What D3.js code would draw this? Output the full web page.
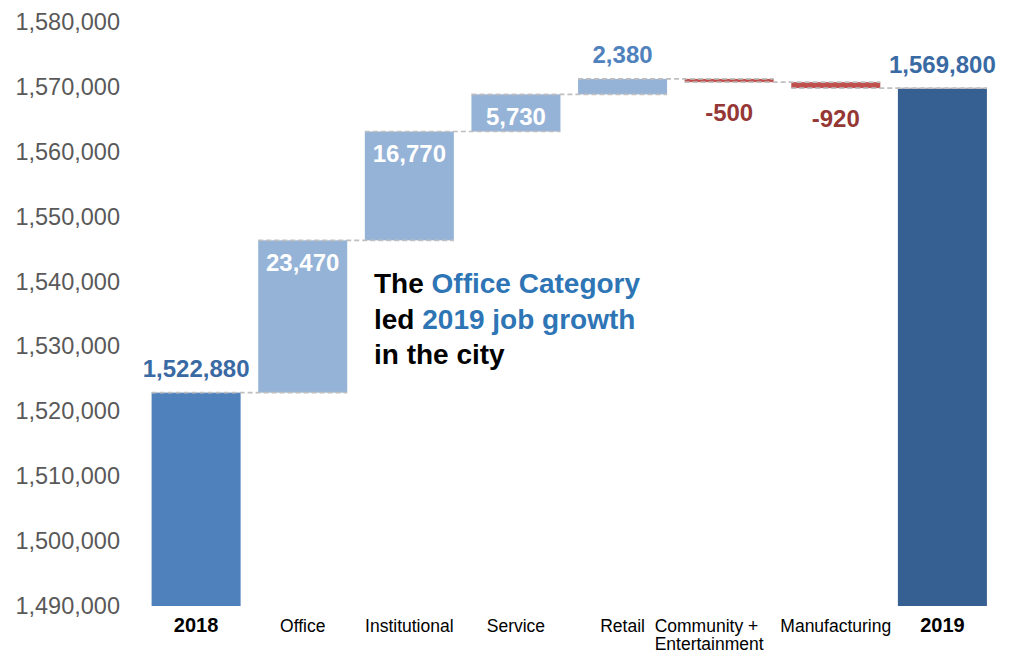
<!DOCTYPE html>
<html>
<head>
<meta charset="utf-8">
<script src="https://cdn.jsdelivr.net/npm/d3@7/dist/d3.min.js"></script>
<style>
  html, body { margin: 0; padding: 0; background: #fff; }
  svg { display: block; font-family: Arial, "Liberation Sans", sans-serif; }
</style>
</head>
<body>
<svg id="chart" width="1013" height="654"></svg>
<script>
// Job counts, 2018 to 2019, by category
const categories = ["2018", "Office", "Institutional", "Service", "Retail", "Community +\nEntertainment", "Manufacturing", "2019"];
const values = [1522880, 23470, 16770, 5730, 2380, -500, -920, 1569800];
const kinds = ["total", "delta", "delta", "delta", "delta", "delta", "delta", "total"];
const yTicks = [1490000, 1500000, 1510000, 1520000, 1530000, 1540000, 1550000, 1560000, 1570000, 1580000];

const colors = {
  start: "#4f81bd",
  end: "#376092",
  up: "#95b3d7",
  down: "#c0504d",
  totalLabel: "#3a6aa3",
  upLabelOutside: "#4f81bd",
  downLabel: "#953735",
  axisText: "#595959",
  connector: "#bfbfbf",
  accent: "#2e75b6"
};

const svg = d3.select("#chart");

const x = d3.scaleBand()
  .domain(categories)
  .range([134, 1004.5])
  .padding(0.165);

const y = d3.scaleLinear()
  .domain([1490000, 1580000])
  .range([606, 22]);

// Build the waterfall steps
let running = 0;
const steps = categories.map((c, i) => {
  const v = values[i];
  let lo, hi, end;
  if (kinds[i] === "total") {
    lo = 1490000; hi = v; end = v; running = v;
  } else {
    const startV = running;
    running += v;
    lo = Math.min(startV, running); hi = Math.max(startV, running); end = running;
  }
  return { cat: c, value: v, kind: kinds[i], lo, hi, end, i };
});

// Y axis (labels only)
const yAxis = d3.axisLeft(y)
  .tickValues(yTicks)
  .tickFormat(d3.format(","))
  .tickSize(0)
  .tickPadding(0);
const gy = svg.append("g").attr("transform", "translate(120,0)").call(yAxis);
gy.select(".domain").remove();
gy.selectAll("text")
  .attr("fill", colors.axisText)
  .style("font-size", "23.5px")
  .style("font-family", "Arial, 'Liberation Sans', sans-serif");

// Bars
function barColor(d) {
  if (d.kind === "total") return d.i === 0 ? colors.start : colors.end;
  return d.value >= 0 ? colors.up : colors.down;
}
svg.append("g").selectAll("rect")
  .data(steps)
  .join("rect")
  .attr("x", d => x(d.cat))
  .attr("width", x.bandwidth())
  .attr("y", d => y(d.hi))
  .attr("height", d => Math.max(1, y(d.lo) - y(d.hi)))
  .attr("fill", barColor);

// Dashed connectors: running total after each bar, spanning it and the next
const connectors = steps.slice(0, -1);
svg.append("g").selectAll("line")
  .data(connectors)
  .join("line")
  .attr("x1", d => x(d.cat))
  .attr("x2", d => x(categories[d.i + 1]) + x.bandwidth())
  .attr("y1", d => y(d.end))
  .attr("y2", d => y(d.end))
  .attr("stroke", colors.connector)
  .attr("stroke-width", 1.6)
  .attr("stroke-dasharray", "5,3");
// top edge of the 2019 bar
const last = steps[steps.length - 1];
svg.append("line")
  .attr("x1", x(last.cat)).attr("x2", x(last.cat) + x.bandwidth())
  .attr("y1", y(last.end)).attr("y2", y(last.end))
  .attr("stroke", colors.connector)
  .attr("stroke-width", 1.6)
  .attr("stroke-dasharray", "5,3");

// Value labels (plain hyphen for negatives)
const fmt = v => d3.format(",")(v).replace("\u2212", "-");
const labels = svg.append("g")
  .style("font-weight", "bold")
  .style("font-size", "24px")
  .attr("text-anchor", "middle");

steps.forEach(d => {
  const cx = x(d.cat) + x.bandwidth() / 2;
  let ty, fill;
  const barH = y(d.lo) - y(d.hi);
  if (d.kind === "total") {
    ty = y(d.hi) - 24; fill = colors.totalLabel;
  } else if (d.value >= 0) {
    if (barH > 30) { ty = y(d.hi) + 22; fill = "#ffffff"; }
    else { ty = y(d.hi) - 24; fill = colors.upLabelOutside; }
  } else {
    ty = y(d.lo) + 30; fill = colors.downLabel;
  }
  labels.append("text")
    .attr("x", cx)
    .attr("y", ty)
    .attr("dy", "0.35em")
    .attr("fill", fill)
    .text(fmt(d.value));
});

// Category labels
const xl = svg.append("g");
steps.forEach(d => {
  const cx = x(d.cat) + x.bandwidth() / 2;
  const lines = d.cat.split("\n");
  const t = xl.append("text")
    .attr("y", 632)
    .attr("fill", "#000")
    .style("font-size", d.kind === "total" ? "20px" : "17.5px")
    .style("font-weight", d.kind === "total" ? "bold" : "normal");
  if (lines.length === 1) {
    t.attr("x", cx).attr("text-anchor", "middle").text(lines[0]);
  } else {
    // wrapped label: lines share a left edge, block sits slightly left of centre
    const left = x(d.cat) - 30;
    lines.forEach((ln, k) => {
      t.append("tspan").attr("x", left).attr("dy", k === 0 ? 0 : 18).text(ln);
    });
  }
});

// Annotation
const note = svg.append("text")
  .attr("x", 374)
  .attr("y", 293)
  .style("font-size", "28px")
  .style("font-weight", "bold")
  .attr("fill", "#000");
const noteLines = [
  [["The ", "#000"], ["Office Category", colors.accent]],
  [["led ", "#000"], ["2019 job growth", colors.accent]],
  [["in the city", "#000"]]
];
noteLines.forEach((parts, k) => {
  parts.forEach((p, j) => {
    const ts = note.append("tspan").attr("fill", p[1]).text(p[0]);
    if (j === 0) ts.attr("x", 374).attr("dy", k === 0 ? 0 : 35.5);
  });
});
</script>
</body>
</html>
